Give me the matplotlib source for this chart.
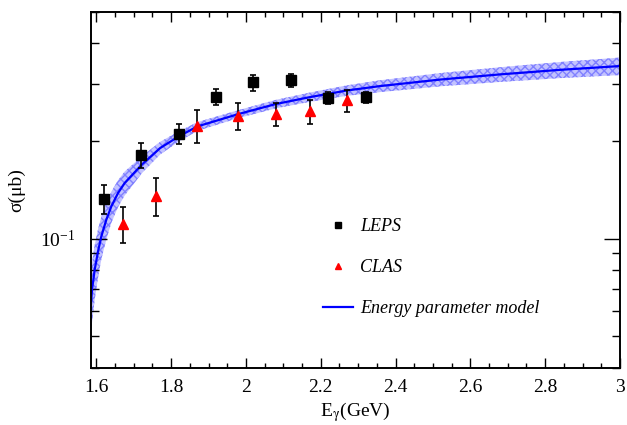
import matplotlib
matplotlib.use("Agg")
import matplotlib.pyplot as plt
from matplotlib.ticker import LogLocator, NullFormatter, FixedLocator, FixedFormatter, MultipleLocator
from matplotlib.lines import Line2D

plt.rcParams['font.family'] = ['Liberation Serif', 'DejaVu Serif']
plt.rcParams['mathtext.fontset'] = 'stix'

# LEPS data
leps_E = [1.62, 1.72, 1.82, 1.92, 2.02, 2.12, 2.22, 2.32]
leps_sigma = [0.1328, 0.1814, 0.2104, 0.2730, 0.3027, 0.3070, 0.2716, 0.2721]
leps_err = [0.0137, 0.0160, 0.0150, 0.0155, 0.0170, 0.0140, 0.0115, 0.0110]

# CLAS data
clas_E = [1.67, 1.76, 1.87, 1.98, 2.08, 2.17, 2.27]
clas_sigma = [0.1107, 0.1353, 0.2227, 0.2390, 0.2424, 0.2470, 0.2665]
clas_err = [0.0140, 0.0180, 0.0260, 0.0225, 0.0200, 0.0210, 0.0210]

# Energy parameter model curve and band
model_E = [1.585, 1.5885, 1.5957, 1.6046, 1.6134, 1.6268, 1.6402, 1.6581, 1.676,
           1.7216, 1.7705, 1.8206, 1.8704, 1.980, 2.080, 2.172, 2.270, 2.359,
           2.520, 2.680, 2.840, 3.000]
model_sigma = [0.0613, 0.0697, 0.0803, 0.0914, 0.1016, 0.1144, 0.1257, 0.1382, 0.1484,
               0.1690, 0.1900, 0.2065, 0.2216, 0.2419, 0.2597, 0.2729, 0.2859, 0.2950,
               0.3090, 0.3205, 0.3310, 0.3400]
model_lo = [0.0478, 0.0551, 0.0650, 0.0759, 0.0864, 0.0995, 0.1119, 0.1251, 0.1358,
            0.1589, 0.1815, 0.1991, 0.2147, 0.2351, 0.2519, 0.2639, 0.2753, 0.2826,
            0.2945, 0.3038, 0.3121, 0.3189]
model_hi = [0.0748, 0.0843, 0.0956, 0.1069, 0.1168, 0.1293, 0.1395, 0.1513, 0.1610,
            0.1791, 0.1986, 0.2139, 0.2285, 0.2487, 0.2675, 0.2819, 0.2965, 0.3074,
            0.3235, 0.3372, 0.3499, 0.3611]

x_ticks = [1.6, 1.8, 2.0, 2.2, 2.4, 2.6, 2.8, 3.0]
x_ticklabels = ["1.6", "1.8", "2", "2.2", "2.4", "2.6", "2.8", "3"]

fig = plt.figure(figsize=(6.27, 4.25), dpi=100)
ax = fig.add_axes([0.1447, 0.1348, 0.9888 - 0.1447, 0.9725 - 0.1348])

ax.fill_between(model_E, model_lo, model_hi, facecolor=(0.76, 0.76, 1.0),
                edgecolor=(0.5, 0.5, 1.0), hatch='xxxx', linewidth=0, zorder=1)
ax.plot(model_E, model_sigma, color='#0000ff', lw=1.6, zorder=2)

ax.errorbar(leps_E, leps_sigma, yerr=leps_err, fmt='s', color='black', ms=6.5,
            ecolor='black', elinewidth=1.2, capsize=2.2, capthick=1.2, zorder=3)
ax.errorbar(clas_E, clas_sigma, yerr=clas_err, fmt='^', color='red', ms=7,
            mec='red', ecolor='black', elinewidth=1.2, capsize=2.2, capthick=1.2, zorder=3)

ax.set_yscale('log')
ax.set_xlim(1.585, 3.0)
ax.set_ylim(0.04, 0.5)

ax.xaxis.set_major_locator(FixedLocator(x_ticks))
ax.xaxis.set_major_formatter(FixedFormatter(x_ticklabels))
ax.xaxis.set_minor_locator(MultipleLocator(0.05))
ax.yaxis.set_major_locator(LogLocator(base=10, numticks=10))
ax.yaxis.set_minor_locator(LogLocator(base=10, subs=[2, 3, 4, 5, 6, 7, 8, 9], numticks=20))
ax.yaxis.set_minor_formatter(NullFormatter())

ax.tick_params(axis='both', which='both', direction='in', top=True, right=True, width=1.0,
               labelsize=14)
ax.tick_params(axis='x', which='major', length=7.2, pad=8)
ax.tick_params(axis='x', which='minor', length=3.6)
ax.tick_params(axis='y', which='major', length=11.5, pad=11)
ax.tick_params(axis='y', which='minor', length=5.8)
for s in ax.spines.values():
    s.set_linewidth(1.4)

ax.set_xlabel(r"E$_{\mathrm{\gamma}}$(GeV)", fontsize=14, labelpad=3)
ax.set_ylabel("σ(μb)", fontsize=14, labelpad=11)

handles = [
    Line2D([], [], marker='s', color='black', ls='none', ms=5),
    Line2D([], [], marker='^', color='red', ls='none', ms=5),
    Line2D([], [], color='#0000ff', lw=1.6),
]
labels = ["LEPS", "CLAS", "Energy parameter model"]
fig.legend(handles, labels, loc='upper left', bbox_to_anchor=(0.5147, 0.486),
           frameon=False, borderpad=0, borderaxespad=0, handlelength=1.7,
           handletextpad=0.35, labelspacing=1.32,
           prop={'family': 'Liberation Serif', 'style': 'italic', 'size': 13})

fig.savefig("out.png", dpi=100)
